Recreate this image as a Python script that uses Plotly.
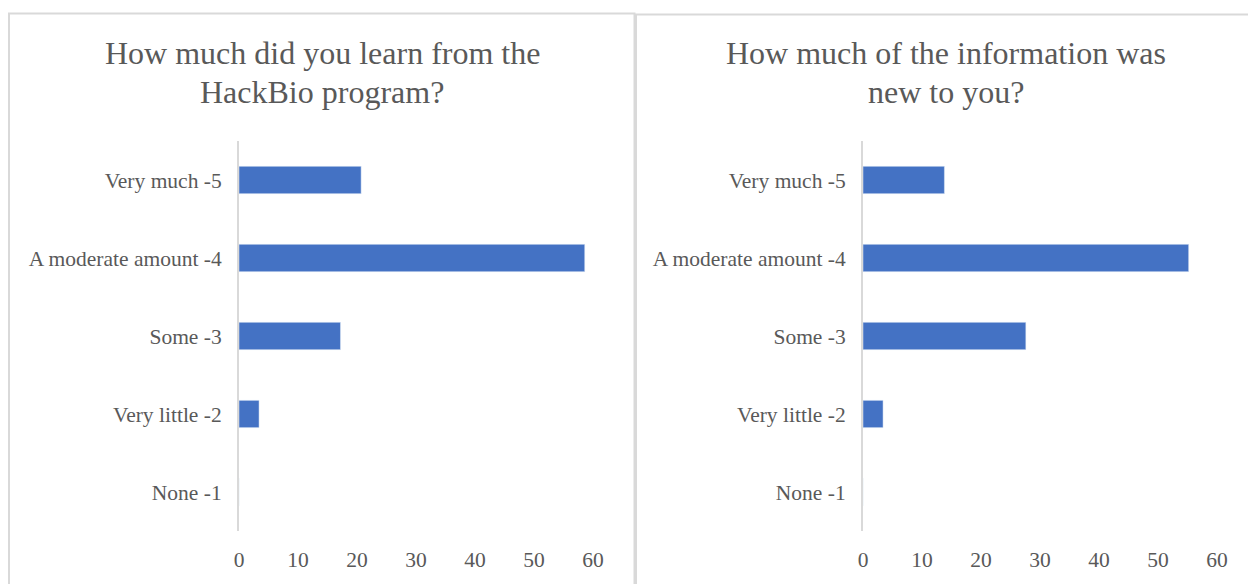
import plotly.graph_objects as go

categories = ["None -1", "Very little -2", "Some -3", "A moderate amount -4", "Very much -5"]
learned = [0, 3.4, 17.2, 58.6, 20.7]
new_info = [0, 3.4, 27.6, 55.2, 13.8]
titles = [["How much did you learn from the", "HackBio program?"],
          ["How much of the information was", "new to you?"]]
x_ticks = [0, 10, 20, 30, 40, 50, 60]

W, H = 1248, 584
FONT = "Liberation Serif, Times New Roman, serif"
GRAY = "#595959"
BORDER = "#d9d9d9"
BAR = "#4472C4"

fig = go.Figure()
fig.add_trace(go.Bar(y=categories, x=learned, orientation="h", marker_color=BAR,
                     xaxis="x", yaxis="y", width=0.35, showlegend=False))
fig.add_trace(go.Bar(y=categories, x=new_info, orientation="h", marker_color=BAR,
                     xaxis="x2", yaxis="y2", width=0.35, showlegend=False))

ydom = [1 - 531 / H, 1 - 141 / H]
common_x = dict(range=[0, 60], tickvals=x_ticks, showgrid=False, zeroline=False,
                showline=False, tickfont=dict(family=FONT, size=21.5, color=GRAY),
                ticklabelstandoff=13, fixedrange=True, automargin=False)
common_y = dict(categoryorder="array", categoryarray=categories, showgrid=False,
                showline=True, linecolor=BORDER, linewidth=2, zeroline=False,
                tickfont=dict(family=FONT, size=21.5, color=GRAY),
                ticklabelstandoff=11, range=[-0.5, 4.5], automargin=False)

fig.update_layout(
    width=W, height=H, margin=dict(l=0, r=0, t=0, b=0, autoexpand=False),
    paper_bgcolor="white", plot_bgcolor="white",
    xaxis=dict(domain=[239 / W, 593 / W], anchor="y", **common_x),
    yaxis=dict(domain=ydom, anchor="x", **common_y),
    xaxis2=dict(domain=[863 / W, 1217 / W], anchor="y2", **common_x),
    yaxis2=dict(domain=ydom, anchor="x2", **common_y),
)

# panel borders
fig.add_shape(type="rect", xref="paper", yref="paper",
              x0=9 / W, x1=634.5 / W, y0=-0.05, y1=1 - 13.5 / H,
              line=dict(color=BORDER, width=2), layer="below")
fig.add_shape(type="rect", xref="paper", yref="paper",
              x0=636 / W, x1=1.05, y0=-0.05, y1=1 - 14.5 / H,
              line=dict(color=BORDER, width=2), layer="below")

for cx, lines in zip([322, 946], titles):
    for cy, line in zip([53, 92], lines):
        fig.add_annotation(xref="paper", yref="paper", x=cx / W, y=1 - cy / H,
                           text=line, showarrow=False, xanchor="center", yanchor="middle",
                           font=dict(family=FONT, size=32, color=GRAY))

fig.write_html("out.html")
